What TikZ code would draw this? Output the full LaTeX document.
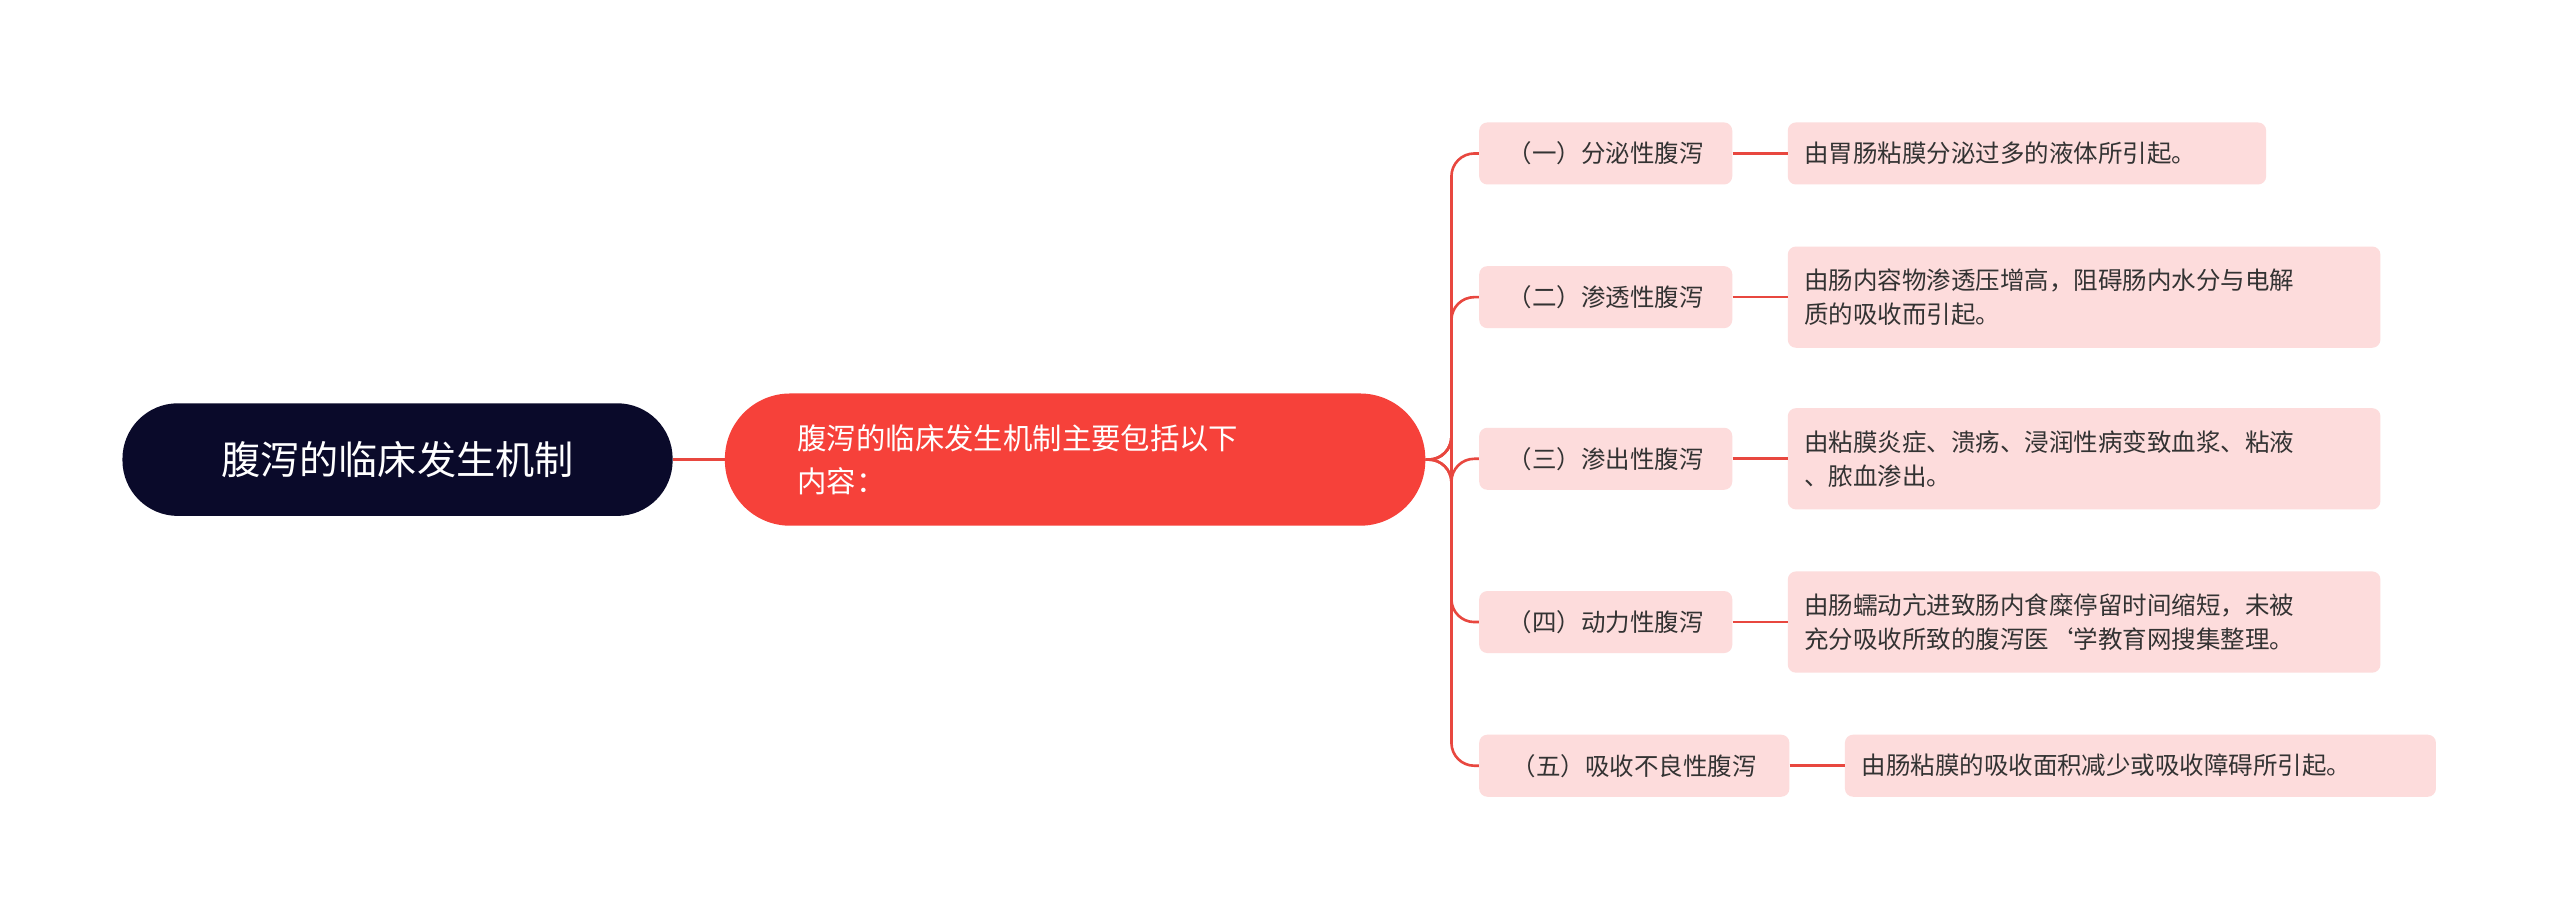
\documentclass[tikz,border=0pt]{standalone}
\usepackage{fontspec}
\setmainfont{Noto Sans CJK SC}
\begin{document}
\begin{tikzpicture}[x=1pt,y=-1pt,
  br/.style={fill=pinkbg,rounded corners=5pt,inner sep=0pt,text=txt,font=\fontsize{15}{19}\selectfont,align=left},
  ln/.style={draw=lnred,line width=1.6pt},
  ]
\definecolor{pinkbg}{HTML}{FDDCDC}
\definecolor{lnred}{HTML}{E8473F}
\definecolor{txt}{HTML}{333333}
\definecolor{navy}{HTML}{0A0A2A}
\definecolor{mainred}{HTML}{F6413A}
\useasboundingbox (0,0) rectangle (1568,563);
\fill[white] (0,0) rectangle (1568,563);
\node[fill=navy,rounded corners=34pt,minimum width=337pt,minimum height=69pt,text=white,font=\fontsize{24}{28}\selectfont] (root) at (243.5,281.5) {腹泻的临床发生机制};
\node[fill=mainred,rounded corners=40pt,minimum width=429pt,minimum height=81pt,text=white,font=\fontsize{18}{26}\selectfont,text width=340pt,align=left] (main) at (658.5,281.5) {腹泻的临床发生机制主要包括以下\\内容：};
\draw[ln] (root.east) -- (main.west);
\foreach \n/\xa/\xb/\ya/\yb/\t in {
 b1/906/1061/75/113/{（一）分泌性腹泻},
 b2/906/1061/163/201/{（二）渗透性腹泻},
 b3/906/1061/262/300/{（三）渗出性腹泻},
 b4/906/1061/362/400/{（四）动力性腹泻},
 b5/906/1096/450/488/{（五）吸收不良性腹泻}}{
 \path[br,fill=pinkbg] (\xa,\ya) rectangle (\xb,\yb);
 \node[text=txt,font=\fontsize{15}{19}\selectfont,inner sep=0pt,minimum width=\xb pt-\xa pt,minimum height=\yb pt-\ya pt] (\n) at ({(\xa+\xb)/2},{(\ya+\yb)/2}) {\t};
 \draw[ln,rounded corners=14pt] (main.east) -- (889,281.5) |- (\n.west);
}
\foreach \n/\xa/\xb/\ya/\yb/\t in {
 l1/1095/1388/75/113/{由胃肠粘膜分泌过多的液体所引起。},
 l2/1095/1458/151/213/{由肠内容物渗透压增高，阻碍肠内水分与电解\\质的吸收而引起。},
 l3/1095/1458/250/312/{由粘膜炎症、溃疡、浸润性病变致血浆、粘液\\、脓血渗出。},
 l4/1095/1458/350/412/{由肠蠕动亢进致肠内食糜停留时间缩短，未被\\充分吸收所致的腹泻医`学教育网搜集整理。},
 l5/1130/1492/450/488/{由肠粘膜的吸收面积减少或吸收障碍所引起。}}{
 \path[br,fill=pinkbg] (\xa,\ya) rectangle (\xb,\yb);
 \node[text=txt,font=\fontsize{15}{21}\selectfont,inner sep=0pt,align=left,anchor=west] (\n) at (\xa+10,{(\ya+\yb)/2}) {\t};
}
\draw[ln] (b1.east) -- (1095,94);
\draw[ln] (b2.east) -- (1095,182);
\draw[ln] (b3.east) -- (1095,281);
\draw[ln] (b4.east) -- (1095,381);
\draw[ln] (b5.east) -- (1130,469);
\end{tikzpicture}
\end{document}
